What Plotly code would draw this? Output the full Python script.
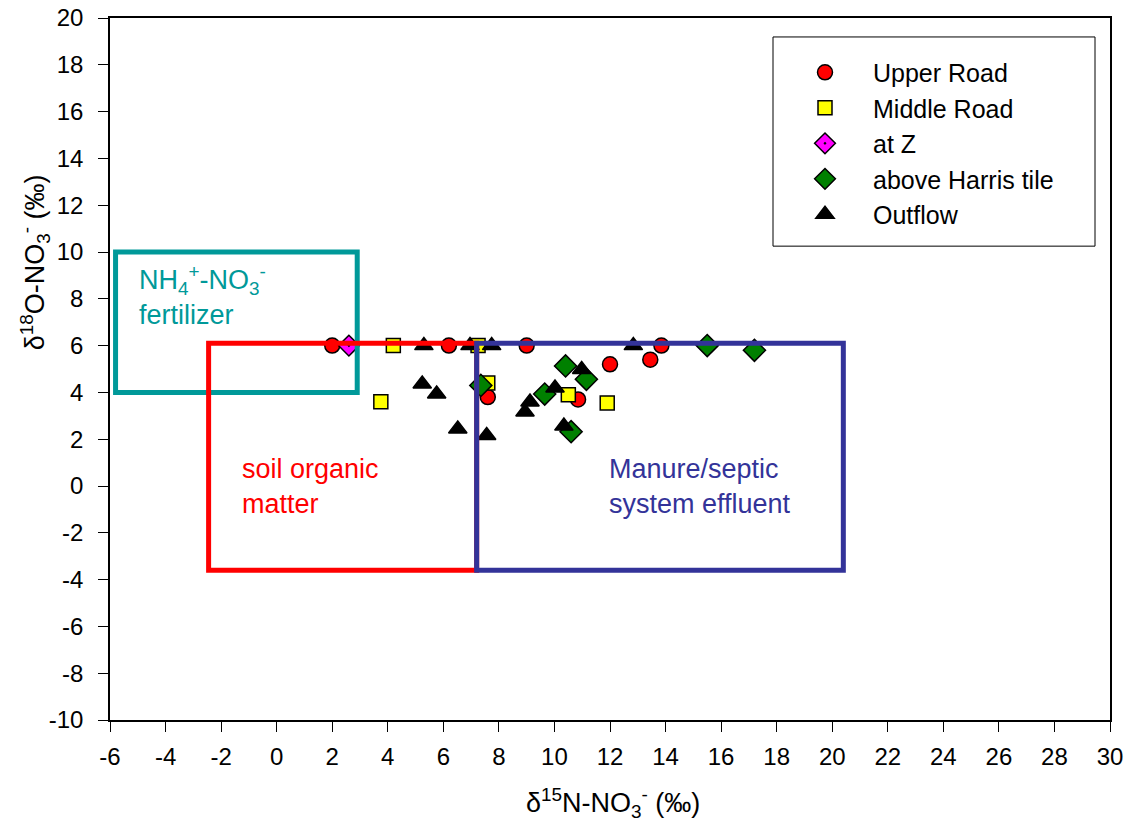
import plotly.graph_objects as go

# Isotope data: delta15N-NO3 (x) and delta18O-NO3 (y), per mil
upper_road_x = [2.0, 6.2, 9.0, 7.6, 10.85, 12.0, 13.45, 13.85]
upper_road_y = [6.0, 6.0, 6.0, 3.8, 3.7, 5.2, 5.4, 6.0]

middle_road_x = [4.2, 3.75, 7.25, 7.6, 10.5, 11.9]
middle_road_y = [6.0, 3.6, 6.0, 4.4, 3.9, 3.55]

at_z_x = [2.6]
at_z_y = [6.0]

harris_x = [7.35, 9.65, 10.4, 11.15, 10.6, 15.5, 17.2]
harris_y = [4.3, 3.93, 5.13, 4.56, 2.32, 6.0, 5.8]

outflow_x = [5.3, 6.96, 7.74, 12.84, 5.24, 5.76, 6.52, 7.56, 10.02, 10.98, 9.12, 8.94, 10.34]
outflow_y = [6.0, 6.0, 6.0, 6.0, 4.36, 3.93, 2.44, 2.16, 4.19, 4.98, 3.59, 3.16, 2.56]

# Axis ticks (plain hyphen minus signs)
x_ticks = list(range(-6, 31, 2))
x_tick_labels = [str(v) for v in x_ticks]
y_ticks = list(range(-10, 21, 2))
y_tick_labels = [str(v) for v in y_ticks]

# Source-region boxes: (x0, x1, y0, y1)
fertilizer_box = (-5.8, 2.9, 4.0, 10.0)
soil_box = (-2.45, 7.2, -3.6, 6.1)
manure_box = (7.2, 20.4, -3.6, 6.1)

FONT = "Liberation Sans, Arial, sans-serif"

fig = go.Figure()

series = [
    ("Upper Road", upper_road_x, upper_road_y, "circle", "#FF0000", 15),
    ("Middle Road", middle_road_x, middle_road_y, "square", "#FFFF00", 14),
    ("at Z", at_z_x, at_z_y, "diamond-dot", "#FF00FF", 16),
    ("above Harris tile", harris_x, harris_y, "diamond", "#008000", 17),
    ("Outflow", outflow_x, outflow_y, "triangle-up", "#000000", 16),
]
for i, (name, xs, ys, sym, col, sz) in enumerate(series):
    fig.add_trace(go.Scatter(
        x=xs, y=ys, mode="markers", name=name, legendgroup=f"g{i}",
        marker=dict(symbol=sym, color=col, size=sz,
                    line=dict(color="black", width=1.5)),
    ))

def box(b, color):
    x0, x1, y0, y1 = b
    return dict(type="rect", xref="x", yref="y", x0=x0, x1=x1, y0=y0, y1=y1,
                line=dict(color=color, width=5), layer="above")

shapes = [
    box(fertilizer_box, "#009999"),
    box(soil_box, "#FF0000"),
    box(manure_box, "#333399"),
    # legend frame
    dict(type="rect", xref="paper", yref="paper", x0=0.663, x1=0.985,
         y0=0.675, y1=0.973, line=dict(color="black", width=1),
         fillcolor="white", layer="below"),
]

annotations = [
    dict(x=-5.03, y=8.12, xref="x", yref="y", xanchor="left", yanchor="middle",
         text="NH<sub>4</sub><sup>+</sup>-NO<sub>3</sub><sup>-</sup><br>fertilizer",
         showarrow=False, align="left", font=dict(family=FONT, size=27, color="#009999")),
    dict(x=-1.32, y=0.0, xref="x", yref="y", xanchor="left", yanchor="middle",
         text="soil organic<br>matter",
         showarrow=False, align="left", font=dict(family=FONT, size=27, color="#FF0000")),
    dict(x=11.89, y=0.0, xref="x", yref="y", xanchor="left", yanchor="middle",
         text="Manure/septic<br>system effluent",
         showarrow=False, align="left", font=dict(family=FONT, size=27, color="#333399")),
    # axis titles
    dict(x=0.503, y=-0.118, xref="paper", yref="paper", xanchor="center", yanchor="middle",
         text="\u03b4<sup>15</sup>N-NO<sub>3</sub><sup>-</sup> (\u2030)",
         showarrow=False, font=dict(family=FONT, size=27, color="black")),
    dict(x=-0.075, y=0.652, xref="paper", yref="paper", xanchor="center", yanchor="middle",
         text="\u03b4<sup>18</sup>O-NO<sub>3</sub><sup>-</sup> (\u2030)", textangle=-90,
         showarrow=False, font=dict(family=FONT, size=27, color="black")),
]

fig.update_layout(
    width=1135, height=824,
    margin=dict(l=110, r=25, t=18, b=104, autoexpand=False),
    paper_bgcolor="white", plot_bgcolor="white",
    showlegend=True,
    legend=dict(x=0.667, y=0.955, xanchor="left", yanchor="top",
                bgcolor="rgba(0,0,0,0)", borderwidth=0,
                font=dict(family=FONT, size=25, color="black"),
                itemwidth=86, traceorder="grouped", tracegroupgap=0),
    shapes=shapes, annotations=annotations,
)

fig.update_xaxes(range=[-6, 30], tickmode="array", tickvals=x_ticks, ticktext=x_tick_labels,
                 showgrid=False, zeroline=False, showline=True, linecolor="black",
                 linewidth=1.5, mirror=True, ticks="outside", ticklen=10,
                 tickcolor="black", tickwidth=1, ticklabelstandoff=4,
                 tickfont=dict(family=FONT, size=24, color="black"))
fig.update_yaxes(range=[-10, 20], tickmode="array", tickvals=y_ticks, ticktext=y_tick_labels,
                 showgrid=False, zeroline=False, showline=True, linecolor="black",
                 linewidth=1.5, mirror=True, ticks="outside", ticklen=10,
                 tickcolor="black", tickwidth=1, ticklabelstandoff=10,
                 tickfont=dict(family=FONT, size=24, color="black"))

fig.write_html("out.html")
